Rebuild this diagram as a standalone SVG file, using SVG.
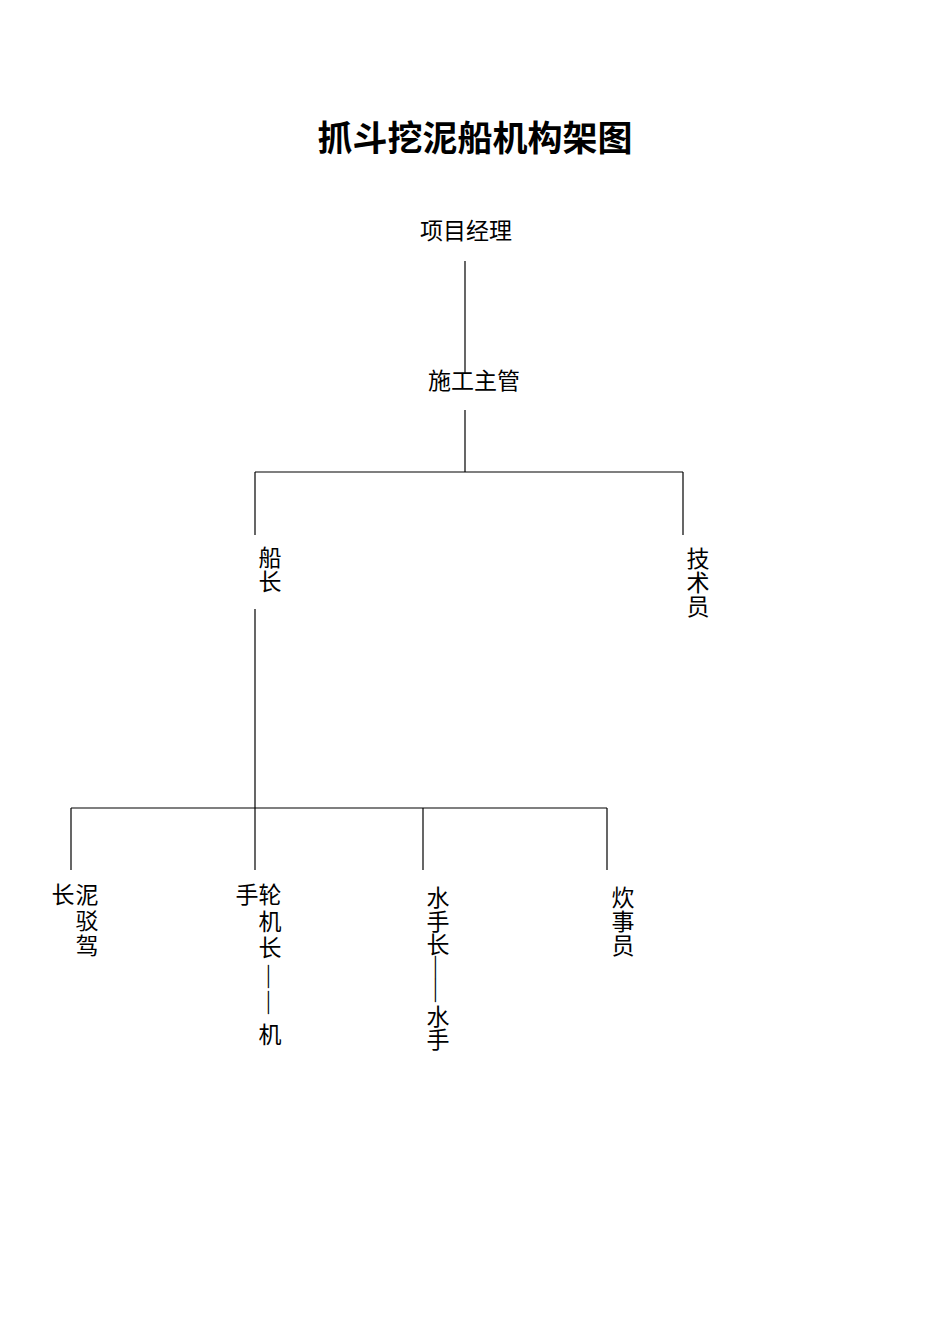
<svg xmlns="http://www.w3.org/2000/svg" width="950" height="1344" viewBox="0 0 950 1344">
<style>
.t{font-family:"Liberation Serif","Noto Sans CJK SC",serif;font-size:23px;fill:#000;text-anchor:middle}
.title{font-family:"Liberation Sans","Noto Sans CJK SC",sans-serif;font-size:35px;font-weight:bold;fill:#000;text-anchor:middle}
.c line{stroke:#000;stroke-width:1.2;fill:none}
</style>
<rect width="950" height="1344" fill="#fff"/>
<text class="title" x="475" y="151">抓斗挖泥船机构架图</text>
<g class="c" id="connectors">
<line x1="465" y1="261" x2="465" y2="373"/>
<line x1="465" y1="410" x2="465" y2="472"/>
<line x1="255" y1="472" x2="683" y2="472"/>
<line x1="255" y1="472" x2="255" y2="535"/>
<line x1="683" y1="472" x2="683" y2="535"/>
<line x1="255" y1="609" x2="255" y2="870"/>
<line x1="71" y1="808" x2="607" y2="808"/>
<line x1="71" y1="808" x2="71" y2="870"/>
<line x1="423" y1="808" x2="423" y2="870"/>
<line x1="607" y1="808" x2="607" y2="870"/>
</g>
<g id="n-manager"><text class="t" x="466" y="239">项目经理</text></g>
<g id="n-supervisor"><text class="t" x="474" y="389">施工主管</text></g>
<g id="n-captain"><text class="t"><tspan x="270" y="566">船</tspan><tspan x="270" y="590">长</tspan></text></g>
<g id="n-tech"><text class="t"><tspan x="698" y="567">技</tspan><tspan x="698" y="591">术</tspan><tspan x="698" y="615">员</tspan></text></g>
<g id="n-barge"><text class="t"><tspan x="63" y="903">长</tspan><tspan x="87" y="903">泥</tspan><tspan x="87" y="929">驳</tspan><tspan x="87" y="954">驾</tspan></text></g>
<g id="n-engineer"><text class="t"><tspan x="247" y="903">手</tspan><tspan x="270" y="903">轮</tspan><tspan x="270" y="930">机</tspan><tspan x="270" y="956">长</tspan><tspan x="270" y="1043">机</tspan></text>
<text class="t" transform="translate(263,965) rotate(90)" style="text-anchor:start;letter-spacing:3px">——</text></g>
<g id="n-bosun"><text class="t"><tspan x="438" y="906">水</tspan><tspan x="438" y="930">手</tspan><tspan x="438" y="953">长</tspan><tspan x="438" y="1025">水</tspan><tspan x="438" y="1048">手</tspan></text>
<text class="t" transform="translate(430,956) rotate(90)" style="text-anchor:start">——</text></g>
<g id="n-cook"><text class="t"><tspan x="623" y="906">炊</tspan><tspan x="623" y="930">事</tspan><tspan x="623" y="954">员</tspan></text></g>
</svg>
